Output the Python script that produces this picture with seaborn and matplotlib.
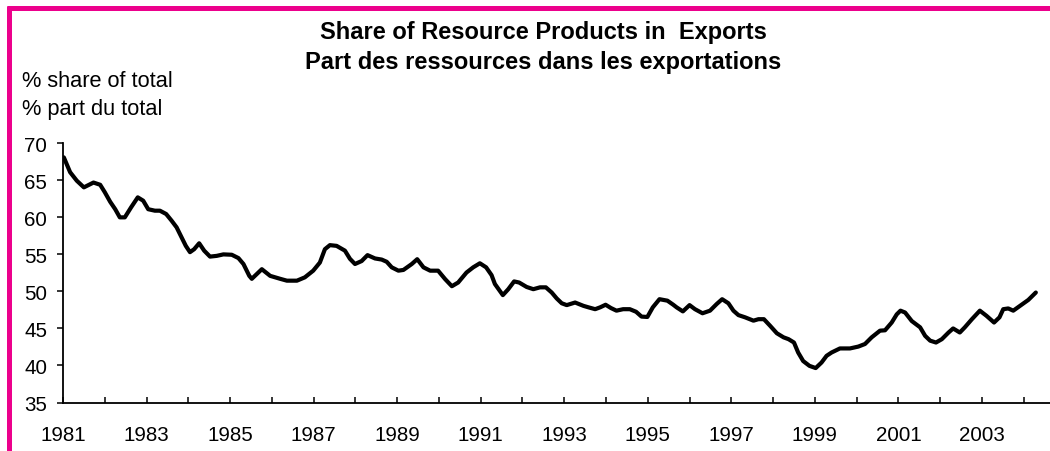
import numpy as np
import pandas as pd
import matplotlib
matplotlib.use('Agg')
import matplotlib.pyplot as plt
from matplotlib.lines import Line2D
import seaborn as sns

# 자료: 그림에서 읽은 값 (decimal year, % share)
years = [1981.02, 1981.17, 1981.33, 1981.50, 1981.73, 1981.89, 1982.00, 1982.13, 1982.25, 1982.36,
         1982.48, 1982.63, 1982.79, 1982.92, 1983.04, 1983.20, 1983.32, 1983.47, 1983.60, 1983.72,
         1983.84, 1983.94, 1984.04, 1984.14, 1984.26, 1984.38, 1984.52, 1984.68, 1984.84, 1985.04,
         1985.20, 1985.32, 1985.46, 1985.52, 1985.76, 1985.96, 1986.20, 1986.36, 1986.60, 1986.79,
         1986.99, 1987.15, 1987.27, 1987.39, 1987.55, 1987.75, 1987.87, 1987.99, 1988.15, 1988.29,
         1988.47, 1988.63, 1988.75, 1988.87, 1989.03, 1989.15, 1989.35, 1989.48, 1989.63, 1989.79,
         1989.98, 1990.15, 1990.31, 1990.46, 1990.66, 1990.82, 1990.98, 1991.13, 1991.26, 1991.34,
         1991.53, 1991.66, 1991.80, 1991.92, 1992.10, 1992.26, 1992.42, 1992.56, 1992.70, 1992.82,
         1992.94, 1993.06, 1993.26, 1993.46, 1993.58, 1993.74, 1993.86, 1993.99, 1994.12, 1994.25,
         1994.41, 1994.57, 1994.72, 1994.85, 1994.99, 1995.12, 1995.28, 1995.47, 1995.61, 1995.69,
         1995.84, 1996.00, 1996.13, 1996.31, 1996.49, 1996.65, 1996.78, 1996.93, 1997.05, 1997.17,
         1997.33, 1997.53, 1997.65, 1997.78, 1997.93, 1998.09, 1998.25, 1998.37, 1998.50, 1998.60,
         1998.72, 1998.87, 1999.02, 1999.16, 1999.28, 1999.40, 1999.60, 1999.84, 2000.04, 2000.20,
         2000.36, 2000.56, 2000.68, 2000.84, 2000.96, 2001.05, 2001.16, 2001.32, 2001.52, 2001.64,
         2001.76, 2001.90, 2002.04, 2002.20, 2002.31, 2002.47, 2002.59, 2002.76, 2002.95, 2003.11,
         2003.29, 2003.42, 2003.51, 2003.63, 2003.75, 2003.91, 2004.11, 2004.29]
share = [68.1, 66.1, 64.95, 64.05, 64.7, 64.4, 63.4, 62.1, 61.1, 60.0,
         60.0, 61.35, 62.7, 62.25, 61.1, 60.9, 60.9, 60.45, 59.55, 58.65,
         57.3, 56.15, 55.3, 55.7, 56.5, 55.5, 54.7, 54.8, 55.0, 54.95,
         54.5, 53.7, 52.1, 51.7, 53.0, 52.1, 51.7, 51.45, 51.45, 51.9,
         52.8, 53.9, 55.7, 56.25, 56.15, 55.5, 54.4, 53.7, 54.1, 54.9,
         54.45, 54.3, 54.0, 53.25, 52.8, 52.9, 53.7, 54.35, 53.25, 52.8,
         52.8, 51.65, 50.7, 51.2, 52.55, 53.25, 53.8, 53.25, 52.2, 51.0,
         49.5, 50.3, 51.35, 51.2, 50.6, 50.3, 50.55, 50.55, 49.85, 49.05,
         48.4, 48.15, 48.5, 48.05, 47.85, 47.6, 47.85, 48.2, 47.75, 47.4,
         47.6, 47.6, 47.25, 46.6, 46.55, 47.85, 48.95, 48.75, 48.2, 47.85,
         47.3, 48.15, 47.6, 47.05, 47.4, 48.3, 48.95, 48.4, 47.4, 46.8,
         46.5, 46.05, 46.25, 46.25, 45.35, 44.35, 43.8, 43.55, 43.1, 41.75,
         40.6, 39.95, 39.65, 40.4, 41.3, 41.75, 42.3, 42.3, 42.55, 42.9,
         43.8, 44.7, 44.75, 45.8, 46.9, 47.4, 47.15, 46.0, 45.15, 44.0,
         43.35, 43.1, 43.55, 44.45, 45.0, 44.45, 45.15, 46.25, 47.4, 46.7,
         45.8, 46.5, 47.6, 47.7, 47.4, 48.05, 48.85, 49.85]

year_ticks = list(range(1981, 2005))
year_labels = [str(y) if (y - 1981) % 2 == 0 else '' for y in year_ticks]
y_ticks = [35, 40, 45, 50, 55, 60, 65, 70]

title_en = 'Share of Resource Products in  Exports'
title_fr = 'Part des ressources dans les exportations'
unit_en = '% share of total'
unit_fr = '% part du total'

df = pd.DataFrame({'year': years, 'share': share})

sns.set_style('ticks')
plt.rcParams['font.family'] = ['Liberation Sans', 'DejaVu Sans']
plt.rcParams['text.color'] = 'black'
pink = '#EC008C'

fig = plt.figure(figsize=(10.5, 4.52), dpi=100)
ax = fig.add_axes([63 / 1050, 1 - 403.5 / 452, 1 - 63 / 1050, (403.5 - 144.3) / 452])

sns.lineplot(data=df, x='year', y='share', ax=ax, color='black', linewidth=3.0)

ax.set_xlim(1981, 1981 + (1050 - 63) / 41.77)
ax.set_ylim(35, 70)
ax.set_xticks(year_ticks)
ax.set_xticklabels(year_labels)
ax.set_yticks(y_ticks)
ax.set_xlabel('')
ax.set_ylabel('')
ax.tick_params(axis='x', direction='in', length=4, width=1.1, pad=16, labelsize=14.8, colors='black')
ax.tick_params(axis='y', direction='out', length=4.3, width=1.1, pad=7, labelsize=14.8, colors='black')
sns.despine(ax=ax)
for s in ['left', 'bottom']:
    ax.spines[s].set_linewidth(1.3)
    ax.spines[s].set_color('black')

fig.text(543 / 1050, 1 - 33 / 452, title_en, ha='center', va='center', fontsize=17, fontweight='bold')
fig.text(543 / 1050, 1 - 63 / 452, title_fr, ha='center', va='center', fontsize=17, fontweight='bold')
fig.text(22 / 1050, 1 - 82 / 452, unit_en, ha='left', va='center', fontsize=15.7)
fig.text(22 / 1050, 1 - 109 / 452, unit_fr, ha='left', va='center', fontsize=15.7)

# 분홍 테두리 (위, 왼쪽)
fig.add_artist(Line2D([7 / 1050, 1.0], [1 - 9 / 452, 1 - 9 / 452], color=pink, linewidth=3.6,
                      transform=fig.transFigure, solid_capstyle='butt'))
fig.add_artist(Line2D([9 / 1050, 9 / 1050], [0, 1 - 7 / 452], color=pink, linewidth=3.6,
                      transform=fig.transFigure, solid_capstyle='butt'))

fig.savefig('out.png', dpi=100)
